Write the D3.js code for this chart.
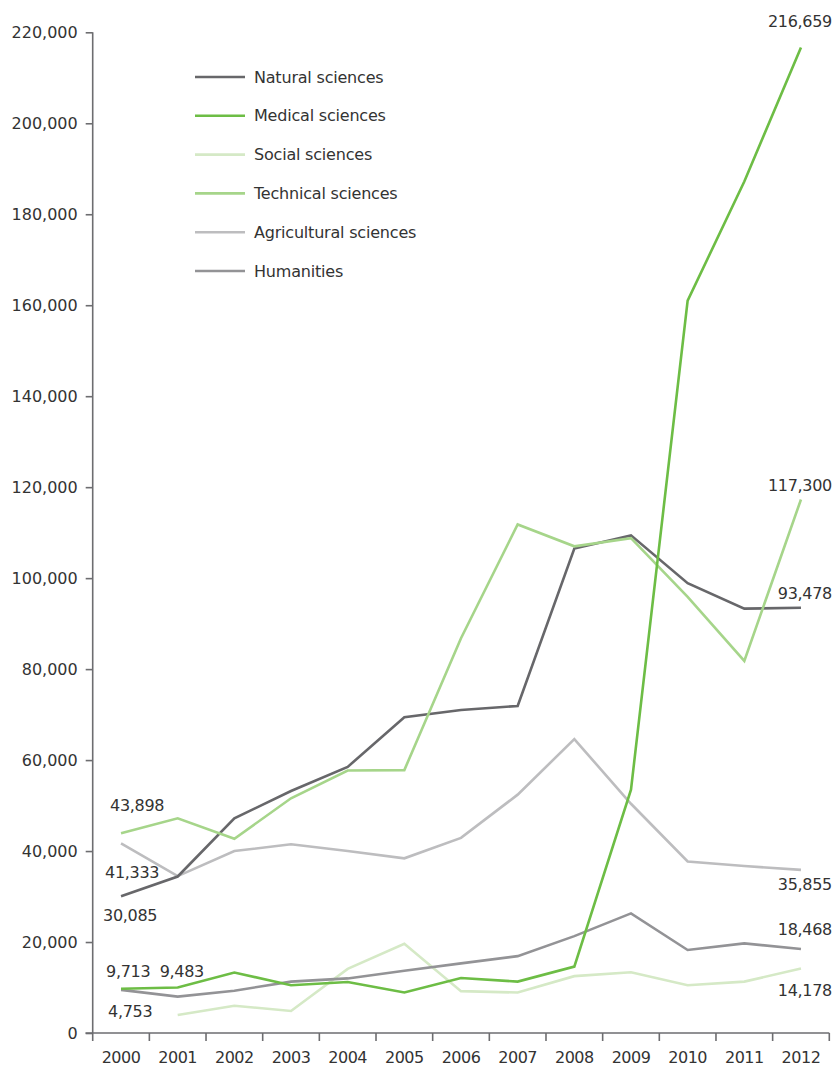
<!DOCTYPE html>
<html><head><meta charset="utf-8">
<script src="https://cdn.jsdelivr.net/npm/d3@7"></script>
<style>
body{margin:0;background:#fff;}
text{font-family:"DejaVu Sans",sans-serif;fill:#333;}
</style></head>
<body><svg id="c" width="835" height="1069"></svg>
<script>
const years = [2000,2001,2002,2003,2004,2005,2006,2007,2008,2009,2010,2011,2012];
const yTicks = [0,20000,40000,60000,80000,100000,120000,140000,160000,180000,200000,220000];
const seriesNames = ["Natural sciences","Medical sciences","Social sciences","Technical sciences","Agricultural sciences","Humanities"];
const natural = [30085,34400,47200,53200,58500,69400,71000,71900,106500,109400,98900,93300,93478];
const medical = [9713,10000,13300,10500,11200,8900,12100,11300,14600,53500,161000,187200,216659];
const social = [null,3960,6000,4840,14100,19600,9200,8900,12500,13350,10500,11300,14178];
const technical = [43898,47200,42700,51600,57700,57800,86800,111800,107000,108800,95900,81800,117300];
const agricultural = [41700,34500,40000,41500,40000,38400,42900,52400,64600,50400,37700,36700,35855];
const humanities = [9483,8000,9300,11300,12000,13700,15300,16900,21300,26300,18250,19700,18468];
const seriesValues = [natural,medical,social,technical,agricultural,humanities];
const colors = ["#67676a","#6dbd45","#d5e9c6","#a6d58a","#bdbdbf","#939396"];
// annotation labels: text, year, value
const labelTexts = ["216,659","117,300","93,478","35,855","18,468","14,178","43,898","41,333","30,085","9,713","9,483","4,753"];
const labelYears = [2012,2012,2012,2012,2012,2012,2000,2000,2000,2000,2001,2000];
const labelValues = [216659,117300,93478,35855,18468,14178,43898,41700,30085,9713,10000,4753];

const svg = d3.select("#c");
const x = d3.scaleBand().domain(years).range([92.7, 829.3]).padding(0);
const y = d3.scaleLinear().domain([0,220000]).range([1033, 32.3]);
const cx = d => x(d) + x.bandwidth()/2;

// y axis
const ya = svg.append("g").attr("transform","translate(92.7,0)")
  .call(d3.axisLeft(y).tickValues(yTicks).tickFormat(d3.format(",")).tickSize(7).tickPadding(8));
ya.selectAll("path,line").attr("stroke","#6d6d70").attr("stroke-width",1.6);
ya.select(".domain").attr("d","M0,"+y(220000)+"V"+y(0));
ya.selectAll("text").attr("font-size",16).attr("fill","#333");

// x axis
const xa = svg.append("g").attr("transform","translate(0,"+y(0)+")")
  .call(d3.axisBottom(x).tickSize(0).tickPadding(19));
xa.select(".domain").attr("d","M85.5,0H829.3").attr("stroke","#6d6d70").attr("stroke-width",1.6);
xa.selectAll("text").attr("font-size",16).attr("fill","#333").style("letter-spacing","-0.5px");
const bounds = years.map(d=>x(d)).concat([x(years[years.length-1])+x.bandwidth()]);
xa.selectAll(".bt").data(bounds).enter().append("line").attr("class","bt")
  .attr("x1",d=>d).attr("x2",d=>d).attr("y1",0).attr("y2",8)
  .attr("stroke","#6d6d70").attr("stroke-width",1.6);

// lines (light ones first)
const line = d3.line().defined(d=>d[1]!=null).x(d=>cx(d[0])).y(d=>y(d[1]));
const order = [2,4,5,0,3,1];
order.forEach(i=>{
  svg.append("path").datum(years.map((yr,j)=>[yr,seriesValues[i][j]]))
    .attr("d",line).attr("fill","none").attr("stroke",colors[i]).attr("stroke-width",2.6)
    .attr("stroke-linejoin","miter");
});

// legend
const lg = svg.append("g");
seriesNames.forEach((n,i)=>{
  const ly = 77 + i*38.8;
  lg.append("line").attr("x1",195).attr("x2",245).attr("y1",ly).attr("y2",ly)
    .attr("stroke",colors[i]).attr("stroke-width",2.6);
  lg.append("text").attr("x",254).attr("y",ly+5.5).attr("font-size",16).text(n).style("letter-spacing","-0.2px");
});

// annotations
const offs = [[0,-20],[0,-8],[0,-9],[0,20],[0,-13.5],[0,27],[-11,-22],[-16,35],[-18,24.5],[-15,-12],[-18,-11],[-13,6]];
labelTexts.forEach((t,i)=>{
  const right = labelYears[i]===2012;
  svg.append("text")
    .attr("x", right ? 832 : cx(labelYears[i]) + offs[i][0])
    .attr("y", y(labelValues[i]) + offs[i][1])
    .attr("text-anchor", right ? "end" : "start")
    .attr("font-size",16).style("letter-spacing","-0.3px").text(t);
});
</script></body></html>
